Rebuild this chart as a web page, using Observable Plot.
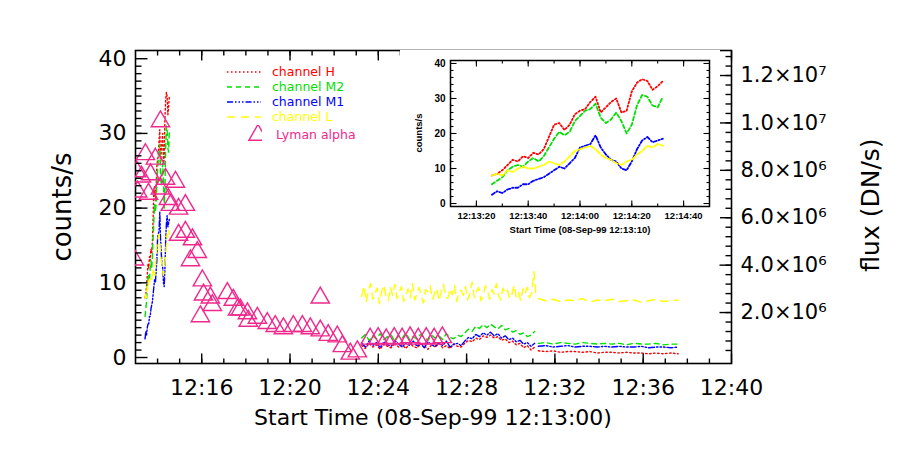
<!DOCTYPE html>
<html><head><meta charset="utf-8">
<script src="https://cdn.jsdelivr.net/npm/d3@7"></script>
<script src="https://cdn.jsdelivr.net/npm/@observablehq/plot@0.6"></script>
<style>
body{margin:0;background:#fff;}
#wrap{position:relative;width:899px;height:464px;overflow:hidden;font-family:"DejaVu Sans",sans-serif;color:#000;}
#main{position:absolute;left:0;top:0;}
#inset{position:absolute;left:400px;top:50px;}
.rot{position:absolute;white-space:nowrap;transform:translate(-50%,-50%) rotate(-90deg);}
.ctr{position:absolute;white-space:nowrap;transform:translate(-50%,-50%);}
#legend{position:absolute;left:226px;top:64px;font-size:12.5px;line-height:15px;}
#legend .row{display:flex;align-items:center;height:15px;}
#legend .sw{margin-right:10px;}
</style></head><body>
<div id="wrap">
  <div id="main"></div>
  <div id="inset"></div>
  <div class="rot" style="left:62px;top:207px;font-size:26px;">counts/s</div>
  <div class="rot" style="left:870px;top:205px;font-size:25px;">flux (DN/s)</div>
  <div class="ctr" style="left:433px;top:417px;font-size:22px;">Start Time (08-Sep-99 12:13:00)</div>
  <div class="rot" style="left:418px;top:133px;font-size:9.5px;font-weight:bold;font-family:'Liberation Sans',sans-serif;">counts/s</div>
  <div class="ctr" style="left:580px;top:229px;font-size:9.5px;font-weight:bold;font-family:'Liberation Sans',sans-serif;">Start Time (08-Sep-99 12:13:10)</div>
  <div id="legend"></div>
</div>
<script>
// ---------- data ----------
const seriesNames  = ["channel H", "channel M2", "channel M1", "channel L"];
const seriesColors = ["#ff0000", "#00e000", "#0000ff", "#ffff00"];
const lymanName = "Lyman alpha";
const lymanColor = "#f0288c";

// early segment (seconds after 12:13:00)
const earlyStart = 26, earlyStep = 2;
const earlyH  = [8.0,8.5,9.5,11.0,12.5,12.0,13.5,13.0,14.5,14.0,15.5,19.0,22.5,23.0,21.0,22.5,25.5,26.5,27.0,29.0,30.5,26.0,27.5,29.0,30.0,26.0,26.5,32.0,34.5,35.5,35.0,32.5,33.5,35.0];
const earlyM2 = [5.5,6.5,7.5,9.5,10.5,11.0,10.5,12.0,13.0,12.0,13.5,16.0,18.5,20.5,19.5,20.5,23.5,25.0,26.5,27.0,28.5,24.5,23.0,24.0,26.0,23.5,20.0,22.5,28.0,31.0,30.5,28.0,27.5,30.5];
const earlyM1 = [2.5,3.5,3.0,4.0,4.5,4.5,5.5,5.5,6.5,7.0,7.5,8.5,9.5,10.5,10.0,11.5,13.0,16.0,16.5,17.0,19.5,16.0,14.0,12.5,12.0,10.0,9.5,12.0,15.5,18.0,19.0,17.5,18.0,18.5];
const earlyL  = [8.0,8.5,8.0,9.5,9.0,10.0,10.5,10.0,10.0,10.5,11.0,12.0,11.5,11.0,12.0,13.5,15.0,15.5,16.0,16.5,15.5,14.0,13.0,12.5,11.5,11.0,12.0,12.5,14.0,15.0,16.5,16.0,17.0,16.5];

// dense segment 12:23:15 - 12:31
const denseStart = 615, denseStep = 10;
const denseH  = [1.6,1.2,1.9,1.4,1.7,1.1,1.8,1.5,1.3,2.0,1.4,1.7,1.2,1.9,1.5,1.3,1.8,1.6,1.1,1.7,1.4,1.9,1.3,1.6,1.2,1.8,1.5,1.4,
                 1.9,2.3,2.1,2.6,2.4,2.9,2.7,3.0,2.6,2.8,2.3,2.5,2.0,2.2,1.7,1.9,1.3,1.6,1.0,1.4];
const denseM2 = [2.6,3.1,2.3,2.9,2.5,3.2,2.4,2.8,3.0,2.2,2.9,2.6,3.3,2.4,2.8,2.5,3.1,2.7,2.3,3.0,2.6,2.9,2.4,3.2,2.7,2.5,3.0,2.8,
                 3.3,3.8,3.5,4.2,3.9,4.4,4.0,4.5,4.1,3.8,4.3,3.7,3.9,3.4,3.6,3.1,3.3,2.8,3.0,3.5];
const denseM1 = [1.9,1.4,2.2,1.6,2.0,1.3,2.1,1.7,1.5,2.3,1.8,1.4,2.0,1.6,2.2,1.5,1.9,1.3,2.1,1.7,1.5,2.0,1.6,2.2,1.4,1.8,1.9,1.6,
                 2.2,2.7,2.5,3.1,2.8,3.3,3.0,3.4,2.9,3.2,2.6,2.9,2.4,2.6,2.1,2.3,1.8,2.0,1.5,1.9];
const denseLStep = 6;
const denseL  = [8.2,9.6,7.4,8.9,9.9,7.8,8.6,9.3,7.2,8.8,9.7,8.1,7.6,9.4,8.3,9.8,7.9,8.7,9.5,7.5,8.4,9.2,8.0,9.9,7.7,8.6,9.4,8.2,7.3,9.1,
                 8.8,9.6,7.8,8.5,9.3,7.6,8.9,9.8,8.1,7.9,9.2,8.4,9.7,7.5,8.7,9.0,8.3,9.5,7.7,8.6,10.1,8.0,8.8,9.4,7.6,8.3,9.6,8.9,7.8,9.1,
                 8.5,9.9,8.2,7.7,9.3,8.6,9.0,7.9,8.4,9.7,8.1,8.8,7.6,9.2,8.5,9.4,8.0,8.7,11.5,8.0];

// sparse segment 12:31 - 12:37:30
const sparseStart = 1095, sparseStep = 20;
const sparseH  = [0.9,0.8,0.9,0.7,0.8,0.8,0.7,0.8,0.6,0.7,0.7,0.6,0.7,0.6,0.6,0.5,0.6,0.5,0.6,0.5];
const sparseM2 = [1.9,2.0,1.8,2.0,1.9,1.8,2.0,1.9,1.8,1.9,1.8,1.9,1.7,1.9,1.8,1.8,1.9,1.7,1.8,1.8];
const sparseM1 = [1.5,1.6,1.4,1.5,1.6,1.4,1.5,1.5,1.4,1.5,1.4,1.5,1.4,1.4,1.5,1.3,1.4,1.4,1.3,1.4];
const sparseL  = [7.9,7.6,7.8,7.5,7.7,7.6,7.9,7.4,7.7,7.6,7.8,7.5,7.6,7.7,7.4,7.6,7.8,7.5,7.6,7.7];

// Lyman alpha (minutes after 12:00, value on counts/s scale)
const lymanMinute = [12.95,13.05,13.1,13.27,13.45,13.59,13.68,13.9,14.13,14.13,14.36,14.49,14.81,14.58,14.95,15.26,14.95,15.26,15.58,15.8,
                     15.49,16.03,16.08,16.39,15.94,17.16,17.43,17.62,16.48,18.07,17.75,18.11,18.52,18.97,19.33,19.7,20.15,20.56,20.92,21.37,
                     21.37,21.73,22.14,22.37,22.73,23.05,23.63,23.99,24.36,24.72,25.08,25.44,25.81,26.17,26.53,26.9];
const lymanValue  = [13.1,24.9,22.2,24.2,27.2,21.9,24.5,26.6,31.6,22.6,23.9,21.2,23.5,20.4,19.9,20.4,16.4,16.8,15.8,14.1,
                     13.0,10.3,8.4,8.0,5.5,8.6,7.7,6.4,7.0,5.9,6.4,4.9,5.3,4.6,4.2,3.9,4.2,4.2,3.9,3.6,
                     8.0,3.0,2.8,1.5,0.5,0.8,2.5,2.6,2.4,2.6,2.5,2.7,2.5,2.6,2.5,2.7];

// axes
const xMajorMin = [16,20,24,28,32,36,40];
const xMinorMin = d3.range(14, 40);
const yMajor = [0,10,20,30,40];
const yMinor = d3.range(1, 40);
const fluxTicks = [2e6,4e6,6e6,8e6,1.0e7,1.2e7];
const fluxTickLabels = ["2.0×10⁶","4.0×10⁶","6.0×10⁶","8.0×10⁶","1.0×10⁷","1.2×10⁷"];
const fluxMinorTicks = d3.range(4e5, 1.3e7, 4e5);
const insetXTicks = [20,40,60,80,100];
const insetXMinor = d3.range(20, 110, 10);
const insetYMinor = d3.range(2, 40, 2);
const insetXLabels = ["12:13:20","12:13:40","12:14:00","12:14:20","12:14:40"];

// ---------- build ----------
const dashes = ["1.5,2.5", "5,4", "6,2,1.5,2,1.5,2,1.5,2", "8,6"];
const insetDashes = ["1.5,2.2", "3.5,2.5", "3.5,2,1.2,2", "5,2"];
const seg = (start, step, vals, id) => vals.map((v, i) => ({s: start + i * step, v, seg: id}));
const rows = [
  [...seg(earlyStart, earlyStep, earlyH, 0), ...seg(denseStart, denseStep, denseH, 1), ...seg(sparseStart, sparseStep, sparseH, 2)],
  [...seg(earlyStart, earlyStep, earlyM2, 0), ...seg(denseStart, denseStep, denseM2, 1), ...seg(sparseStart, sparseStep, sparseM2, 2)],
  [...seg(earlyStart, earlyStep, earlyM1, 0), ...seg(denseStart, denseStep, denseM1, 1), ...seg(sparseStart, sparseStep, sparseM1, 2)],
  [...seg(earlyStart, earlyStep, earlyL, 0), ...seg(denseStart, denseLStep, denseL, 1), ...seg(sparseStart, sparseStep, sparseL, 2)]
];
const early = [earlyH, earlyM2, earlyM1, earlyL].map(a => seg(earlyStart, earlyStep, a, 0));
const lyman = lymanMinute.map((m, i) => ({m, v: lymanValue[i]}));

const fluxToCounts = r => -0.326 + 3.173e-6 * r;
const fluxPos = fluxTicks.map(fluxToCounts);
const fluxLabelFor = d => { let bi = 0; fluxPos.forEach((p, i) => { if (Math.abs(p - d) < Math.abs(fluxPos[bi] - d)) bi = i; }); return fluxTickLabels[bi]; };
const fluxMinor = fluxMinorTicks.map(fluxToCounts);

// inward tick marks along the frame edges, drawn as short links; length n in px
function edgeTicks(xd, yd, fw, fh, sw) {
  const ux = (xd[1] - xd[0]) / fw, uy = (yd[1] - yd[0]) / fh;
  const o = {stroke: "#000", strokeWidth: sw};
  return {
    B: (t, n) => Plot.link(t, {x1: d => d, x2: d => d, y1: () => yd[0], y2: () => yd[0] + n * uy, ...o}),
    T: (t, n) => Plot.link(t, {x1: d => d, x2: d => d, y1: () => yd[1], y2: () => yd[1] - n * uy, ...o}),
    L: (t, n) => Plot.link(t, {y1: d => d, y2: d => d, x1: () => xd[0], x2: () => xd[0] + n * ux, ...o}),
    R: (t, n) => Plot.link(t, {y1: d => d, y2: d => d, x1: () => xd[1], x2: () => xd[1] - n * ux, ...o})
  };
}

const M = {w: 899, h: 464, l: 135, r: 168, t: 50, b: 101};
const mainX = [13, 40], mainY = [-0.8, 41.1];
const mt = edgeTicks(mainX, mainY, M.w - M.l - M.r, M.h - M.t - M.b, 1.4);
const main = Plot.plot({
  width: M.w, height: M.h,
  marginLeft: M.l, marginRight: M.r, marginTop: M.t, marginBottom: M.b,
  x: {domain: mainX, label: null},
  y: {domain: mainY, label: null},
  style: {fontFamily: "DejaVu Sans, sans-serif"},
  marks: [
    Plot.frame({stroke: "#000", strokeWidth: 1.6}),
    ...rows.map((r, k) => Plot.line(r, {x: d => 13 + d.s / 60, y: "v", z: "seg", stroke: seriesColors[k], strokeWidth: 1.4, strokeDasharray: dashes[k], clip: true})),
    Plot.dot(lyman, {x: "m", y: "v", symbol: "triangle", r: 6.8, stroke: lymanColor, strokeWidth: 1.4, fill: "none", clip: true}),
    mt.B(xMinorMin, 5), mt.B(xMajorMin, 10),
    mt.T(xMinorMin, 5), mt.T(xMajorMin, 10),
    mt.L(yMinor, 6), mt.L(yMajor, 12),
    mt.R(fluxMinor, 6), mt.R(fluxPos, 12),
    Plot.axisX({ticks: xMajorMin, tickSize: 0, tickPadding: 16, fontSize: 22, tickFormat: d => "12:" + d, label: null}),
    Plot.axisY({ticks: yMajor, tickSize: 0, tickPadding: 9, fontSize: 22, label: null}),
    Plot.axisY({anchor: "right", ticks: fluxPos, tickSize: 0, tickPadding: 9, fontSize: 21, tickFormat: fluxLabelFor, label: null})
  ]
});
document.getElementById("main").appendChild(main);

const I = {w: 320, h: 190, l: 50, r: 11, t: 10, b: 34};
const insetX = [10, 110], insetY = [-0.85, 40.85];
const it = edgeTicks(insetX, insetY, I.w - I.l - I.r, I.h - I.t - I.b, 1.1);
const inset = Plot.plot({
  width: I.w, height: I.h,
  marginLeft: I.l, marginRight: I.r, marginTop: I.t, marginBottom: I.b,
  x: {domain: insetX, label: null},
  y: {domain: insetY, label: null},
  style: {background: "white", fontFamily: "Liberation Sans, sans-serif", fontWeight: "bold"},
  marks: [
    Plot.frame({stroke: "#000", strokeWidth: 1.5}),
    ...early.map((r, k) => Plot.line(r, {x: "s", y: "v", stroke: seriesColors[k], strokeWidth: 1.8, strokeDasharray: insetDashes[k], clip: true})),
    it.B(insetXMinor, 3), it.B(insetXTicks, 6),
    it.T(insetXMinor, 3), it.T(insetXTicks, 6),
    it.L(insetYMinor, 3), it.L(yMajor, 6),
    it.R(insetYMinor, 3), it.R(yMajor, 6),
    Plot.axisX({ticks: insetXTicks, tickSize: 0, tickPadding: 6, fontSize: 9.5, tickFormat: (d) => insetXLabels[insetXTicks.indexOf(d)], label: null}),
    Plot.axisY({ticks: yMajor, tickSize: 0, tickPadding: 5, fontSize: 10, label: null})
  ]
});
document.getElementById("inset").appendChild(inset);

// legend
const legend = d3.select("#legend");
seriesNames.forEach((name, k) => {
  const row = legend.append("div").attr("class", "row");
  const svg = row.append("svg").attr("class", "sw").attr("width", 36).attr("height", 10);
  svg.append("line").attr("x1", 1).attr("x2", 35).attr("y1", 5).attr("y2", 5)
    .attr("stroke", seriesColors[k]).attr("stroke-width", 1.6).attr("stroke-dasharray", dashes[k]);
  row.append("span").style("color", seriesColors[k]).text(name);
});
{
  const row = legend.append("div").attr("class", "row").style("height", "20px");
  const svg = row.append("svg").attr("class", "sw").attr("width", 36).attr("height", 18);
  svg.append("path").attr("d", d3.symbol(d3.symbolTriangle, Math.PI * 6.8 * 6.8)()).attr("transform", "translate(32,10)")
    .attr("fill", "none").attr("stroke", lymanColor).attr("stroke-width", 1.4);
  row.append("span").style("color", lymanColor).style("margin-left", "4px").text(lymanName);
}
</script>
</body></html>
